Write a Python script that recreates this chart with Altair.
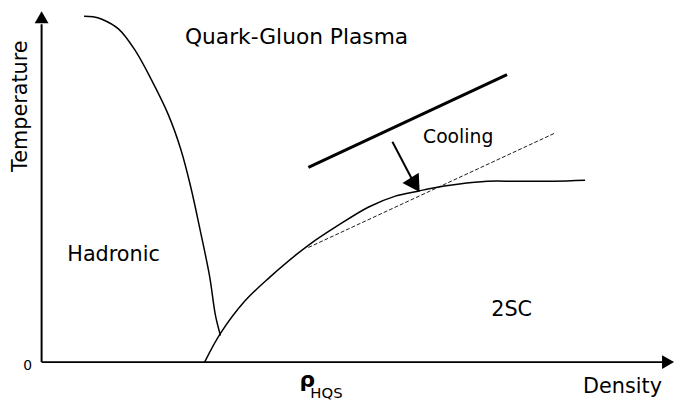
import math
import altair as alt
import pandas as pd

# Data units: density on x (0 at the vertical axis), temperature on y (0 at the horizontal axis)
hadronic_x = [43, 52, 61, 78, 95, 111, 128, 141, 151, 161, 170, 176, 181]
hadronic_y = [350, 349.5, 347, 337, 315, 286, 251, 215, 177, 131, 87, 47, 27]

sc_x = [165, 181, 205, 231, 258, 271, 298, 331, 358, 381, 395, 421, 451, 481, 518, 550]
sc_y = [0, 29, 61, 86, 109, 119, 137, 157, 168, 173, 176, 180, 183, 183, 183, 184]

dashed_x = [270, 520]
dashed_y = [116, 232]

thick_x = [270, 471]
thick_y = [197, 291]

arrow_start = (355, 223)
arrow_tip = (381, 173)

yaxis_x = [0, 0]
yaxis_y = [0, 342]
xaxis_x = [0, 630]
xaxis_y = [0, 0]

labels = ["Quark-Gluon Plasma", "Hadronic", "2SC", "Cooling", "Density"]
label_x = [258, 26, 455, 386, 548]
label_y = [322, 102, 47, 222, -31]
label_align = ["center", "left", "left", "left", "left"]
label_size = [22, 21, 21, 19, 21]

XS = alt.Scale(domain=[-34, 641], nice=False, zero=False)
YS = alt.Scale(domain=[-38, 356], nice=False, zero=False)
FONT = "DejaVu Sans"


def xenc(f="x"):
    return alt.X(f + ":Q", scale=XS, axis=None)


def yenc(f="y"):
    return alt.Y(f + ":Q", scale=YS, axis=None)


def line_layer(xs, ys, **kw):
    df = pd.DataFrame({"x": xs, "y": ys, "i": list(range(len(xs)))})
    return alt.Chart(df).mark_line(color="black", **kw).encode(
        x=xenc(), y=yenc(), order="i:Q"
    )


hadronic = line_layer(hadronic_x, hadronic_y, strokeWidth=1.5, interpolate="catmull-rom")
sc_curve = line_layer(sc_x, sc_y, strokeWidth=1.5, interpolate="catmull-rom")
dashed = line_layer(dashed_x, dashed_y, strokeWidth=0.9, strokeDash=[4, 2])
thick = line_layer(thick_x, thick_y, strokeWidth=3)
yaxis = line_layer(yaxis_x, yaxis_y, strokeWidth=2)
xaxis = line_layer(xaxis_x, xaxis_y, strokeWidth=2)

# arrow shaft
shaft = line_layer([arrow_start[0], arrow_tip[0] - 4], [arrow_start[1], arrow_tip[1] + 8], strokeWidth=2)

# arrow head: triangle whose tip sits on arrow_tip
dx = arrow_tip[0] - arrow_start[0]
dy = arrow_tip[1] - arrow_start[1]
L = math.hypot(dx, dy)
head_len = 19.5
ang = math.degrees(math.atan2(dx, -dy))  # clockwise angle from "up" on screen
head_df = pd.DataFrame({
    "x": [arrow_tip[0] - dx / L * head_len / 2],
    "y": [arrow_tip[1] - dy / L * head_len / 2],
})
head = alt.Chart(head_df).mark_point(
    shape="triangle", filled=True, color="black", size=head_len ** 2, angle=ang, opacity=1
).encode(x=xenc(), y=yenc())

# axis arrow heads
yhead = alt.Chart(pd.DataFrame({"x": [0], "y": [349]})).mark_point(
    shape="triangle-up", filled=True, color="black", size=196, opacity=1
).encode(x=xenc(), y=yenc())
xhead = alt.Chart(pd.DataFrame({"x": [634], "y": [0]})).mark_point(
    shape="triangle-right", filled=True, color="black", size=196, opacity=1
).encode(x=xenc(), y=yenc())

text_layers = []
for t, x, y, a, s in zip(labels, label_x, label_y, label_align, label_size):
    text_layers.append(
        alt.Chart(pd.DataFrame({"x": [x], "y": [y], "t": [t]})).mark_text(
            font=FONT, fontSize=s, align=a, baseline="alphabetic", color="black"
        ).encode(x=xenc(), y=yenc(), text="t:N")
    )

temp = alt.Chart(pd.DataFrame({"x": [-21], "y": [259], "t": ["Temperature"]})).mark_text(
    font=FONT, fontSize=21, align="center", baseline="middle", angle=270, color="black"
).encode(x=xenc(), y=yenc(), text="t:N")

zero = alt.Chart(pd.DataFrame({"x": [-14], "y": [-4], "t": ["0"]})).mark_text(
    font=FONT, fontSize=14, align="center", baseline="middle", color="black"
).encode(x=xenc(), y=yenc(), text="t:N")

rho = alt.Chart(pd.DataFrame({"x": [261], "y": [-25], "t": ["ρ"]})).mark_text(
    font=FONT, fontSize=22, fontWeight="bold", align="left", baseline="alphabetic", color="black"
).encode(x=xenc(), y=yenc(), text="t:N")

hqs = alt.Chart(pd.DataFrame({"x": [272], "y": [-36], "t": ["HQS"]})).mark_text(
    font=FONT, fontSize=15, align="left", baseline="alphabetic", color="black"
).encode(x=xenc(), y=yenc(), text="t:N")

chart = alt.layer(
    yaxis, xaxis, yhead, xhead, hadronic, sc_curve, dashed, thick, shaft, head,
    *text_layers, temp, zero, rho, hqs
).properties(
    width=675, height=394, padding=0, autosize=alt.AutoSizeParams(type="none")
).configure(background="white").configure_view(stroke=None, strokeWidth=0)

chart.save("out.html", embed_options={"renderer": "svg", "actions": False})
